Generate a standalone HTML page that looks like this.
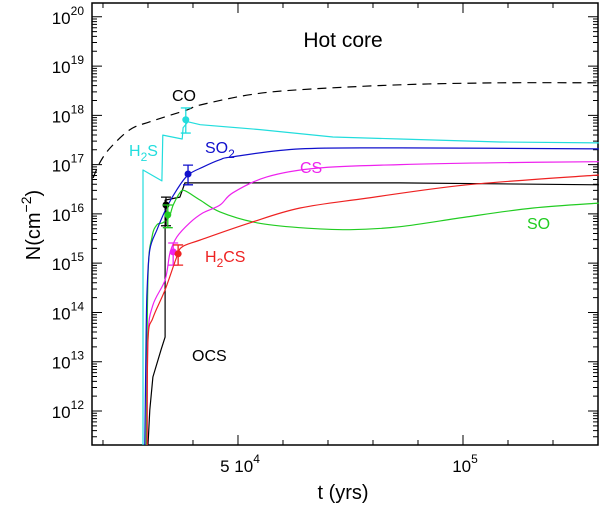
<!DOCTYPE html>
<html><head><meta charset="utf-8"><style>
body{margin:0;background:#fff;}
svg{display:block;font-family:"Liberation Sans",sans-serif;}
</style></head><body>
<svg id="chart" width="600" height="505" viewBox="0 0 600 505">
<rect x="0" y="0" width="600" height="505" fill="#fff"/>
<g id="axes"></g>
<g id="series"></g>
<text x="343" y="47" font-size="21" text-anchor="middle">Hot core</text>
<text x="343" y="499" font-size="20" text-anchor="middle">t (yrs)</text>
<text transform="translate(40,225) rotate(-90)" font-size="20" text-anchor="middle">N(cm<tspan dy="-9" font-size="14">−2</tspan><tspan dy="9">)</tspan></text>
<text x="172" y="101" font-size="16">CO</text>
<text x="129" y="156" font-size="16" fill="#22dddd">H<tspan dy="5" font-size="12">2</tspan><tspan dy="-5">S</tspan></text>
<text x="205" y="153" font-size="16" fill="#1010cc">SO<tspan dy="5" font-size="12">2</tspan></text>
<text x="300" y="173" font-size="16" fill="#ee22ee">CS</text>
<text x="205" y="262" font-size="16" fill="#ee2222">H<tspan dy="5" font-size="12">2</tspan><tspan dy="-5">CS</tspan></text>
<text x="527" y="229" font-size="16" fill="#22cc22">SO</text>
<text x="192" y="361" font-size="16">OCS</text>
</svg>
<script>
// time in units of 1e4 yrs, values as log10 N
const xMin = 1.756, xMax = 13.0;
const yMinLog = 11.31, yMaxLog = 20.28;
const yTickExps = [12,13,14,15,16,17,18,19,20];
const xMajorTicks = [5,10];
const xMajorLabels = ["5 10", "10"];
const xMajorSup = ["4","5"];
const coData = [[1.78,16.73],[1.93,17.04],[2.16,17.34],[2.6,17.71],[3.04,17.87],[3.87,18.11],[4.16,18.21],[5.27,18.42],[6.38,18.52],[8.6,18.62],[10.82,18.66],[13.02,18.66]];
const h2sData = [[2.89,11.31],[2.89,16.89],[3.31,16.67],[3.33,17.6],[3.76,17.52],[3.78,17.75],[3.89,17.87],[4.16,17.81],[5.49,17.71],[7.11,17.56],[8.6,17.52],[10.82,17.46],[13.02,17.44]];
const so2Data = [[2.93,11.31],[2.96,13.64],[2.98,14.46],[3.04,15.27],[3.2,15.68],[3.42,16.14],[3.64,16.49],[3.89,16.79],[4.22,16.95],[4.6,17.1],[4.89,17.16],[6.38,17.32],[8.6,17.34],[13.02,17.32]];
const ocsData = [[3.0,11.31],[3.04,12.02],[3.11,12.69],[3.29,13.24],[3.38,13.5],[3.38,16.28],[3.71,16.34],[3.82,16.63],[8.6,16.63],[13.02,16.59]];
const soData = [[2.96,11.31],[3.0,14.72],[3.09,15.53],[3.2,15.78],[3.33,15.82],[3.47,15.94],[3.56,16.18],[3.71,16.43],[3.82,16.47],[4.16,16.28],[4.6,16.04],[5.42,15.82],[6.38,15.72],[7.49,15.68],[8.6,15.74],[10.09,15.94],[11.56,16.12],[13.02,16.22]];
const csData = [[2.98,11.31],[3.0,13.5],[3.11,14.15],[3.38,14.66],[3.49,15.21],[3.64,15.53],[3.93,15.82],[4.22,16.02],[4.6,16.18],[4.89,16.43],[5.64,16.75],[6.76,16.93],[8.6,17.0],[10.82,17.04],[13.02,17.06]];
const h2csData = [[2.98,11.31],[3.0,13.44],[3.11,13.89],[3.38,14.46],[3.64,15.13],[3.76,15.33],[4.16,15.47],[5.27,15.82],[6.38,16.12],[7.87,16.32],[10.09,16.59],[13.02,16.79]];
// markers: t, logN, errTop, errBottom
const obsT = [3.84,3.89,3.4,3.44,3.56,3.67];
const obsN = [17.91,16.81,16.18,15.98,15.23,15.19];
const obsHi = [18.15,16.99,16.34,16.18,15.41,15.37];
const obsLo = [17.64,16.59,15.76,15.72,14.96,14.96];
const obsNames = ["h2s","so2","ocs","so","cs","h2cs"];
const obsColors = ["#22dddd","#1010cc","#000","#22cc22","#ee22ee","#ee2222"];

const L=92,R=598,T=3,B=445;
const NS="http://www.w3.org/2000/svg";
function xs(t){return L+(t-xMin)/(xMax-xMin)*(R-L);}
function ys(v){return B-(v-yMinLog)/(yMaxLog-yMinLog)*(B-T);}
function mk(tag,attrs,parent){const e=document.createElementNS(NS,tag);for(const k in attrs)e.setAttribute(k,attrs[k]);parent.appendChild(e);return e;}
const axes=document.getElementById('axes'), series=document.getElementById('series');
const frame=mk('rect',{x:L,y:T,width:R-L,height:B-T,fill:'none',stroke:'#000','stroke-width':1.5},axes);


let tp='';
for(let e=11;e<=20;e++){
  for(let m=1;m<10;m++){
    const v=e+Math.log10(m); if(v<yMinLog||v>yMaxLog) continue;
    const y=ys(v); const len=m===1?10:5;
    tp+=`M${L} ${y}h${len}M${R} ${y}h${-len}`;
  }
}
for(let t=2;t<=13;t++){
  const x=xs(t); const len=(t===5||t===10)?10:5;
  tp+=`M${x} ${B}v${-len}M${x} ${T}v${len}`;
}
const ticks=mk('path',{d:tp,stroke:'#000','stroke-width':1,fill:'none'},axes);


yTickExps.forEach(e=>{
  const t=mk('text',{x:L-8,y:ys(e)+7,'font-size':17,'text-anchor':'end'},axes);
  
  
  t.innerHTML=`10<tspan dy="-9" font-size="12">${e}</tspan>`;
});
xMajorTicks.forEach((v,i)=>{
  const t=mk('text',{x:xs(v)+2,y:B+27,'font-size':17,'text-anchor':'middle'},axes);
  
  
  t.innerHTML=`${xMajorLabels[i]}<tspan dy="-9" font-size="12">${xMajorSup[i]}</tspan>`;
});
function line(data,color,name,dash,smooth){
  const P=data.map(p=>[xs(p[0]),ys(p[1])]);
  let d='M'+P[0][0].toFixed(1)+' '+P[0][1].toFixed(1);
  for(let i=0;i<P.length-1;i++){
    if(!smooth){d+='L'+P[i+1][0].toFixed(1)+' '+P[i+1][1].toFixed(1);continue;}
    const p0=P[Math.max(0,i-1)],p1=P[i],p2=P[i+1],p3=P[Math.min(P.length-1,i+2)];
    const k=1/6;
    const c1=[p1[0]+(p2[0]-p0[0])*k,p1[1]+(p2[1]-p0[1])*k];
    const c2=[p2[0]-(p3[0]-p1[0])*k,p2[1]-(p3[1]-p1[1])*k];
    d+=`C${c1[0].toFixed(1)} ${c1[1].toFixed(1)} ${c2[0].toFixed(1)} ${c2[1].toFixed(1)} ${p2[0].toFixed(1)} ${p2[1].toFixed(1)}`;
  }
  const a={d:d,fill:'none',stroke:color,'stroke-width':1.2,'stroke-linejoin':'round'};
  if(dash)a['stroke-dasharray']=dash;
  const p=mk('path',a,series);
  
  
}
line(coData,'#000','co-line','9,6',true);
line(h2sData,'#22dddd','h2s-line',null,false);
line(ocsData,'#000','ocs-line',null,false);
line(soData,'#22cc22','so-line',null,true);
line(csData,'#ee22ee','cs-line',null,true);
line(h2csData,'#ee2222','h2cs-line',null,true);
line(so2Data,'#1010cc','so2-line',null,true);
obsT.forEach((t,i)=>{
  const x=xs(t),c=obsColors[i];
  const g=mk('g',{},series);
  
  
  mk('path',{d:`M${x} ${ys(obsHi[i])}V${ys(obsLo[i])}M${x-5} ${ys(obsHi[i])}h10M${x-5} ${ys(obsLo[i])}h10`,stroke:c,'stroke-width':1.3,fill:'none'},g);
  mk('circle',{cx:x,cy:ys(obsN[i]),r:3.5,fill:c},g);
});
</script>
</body></html>
